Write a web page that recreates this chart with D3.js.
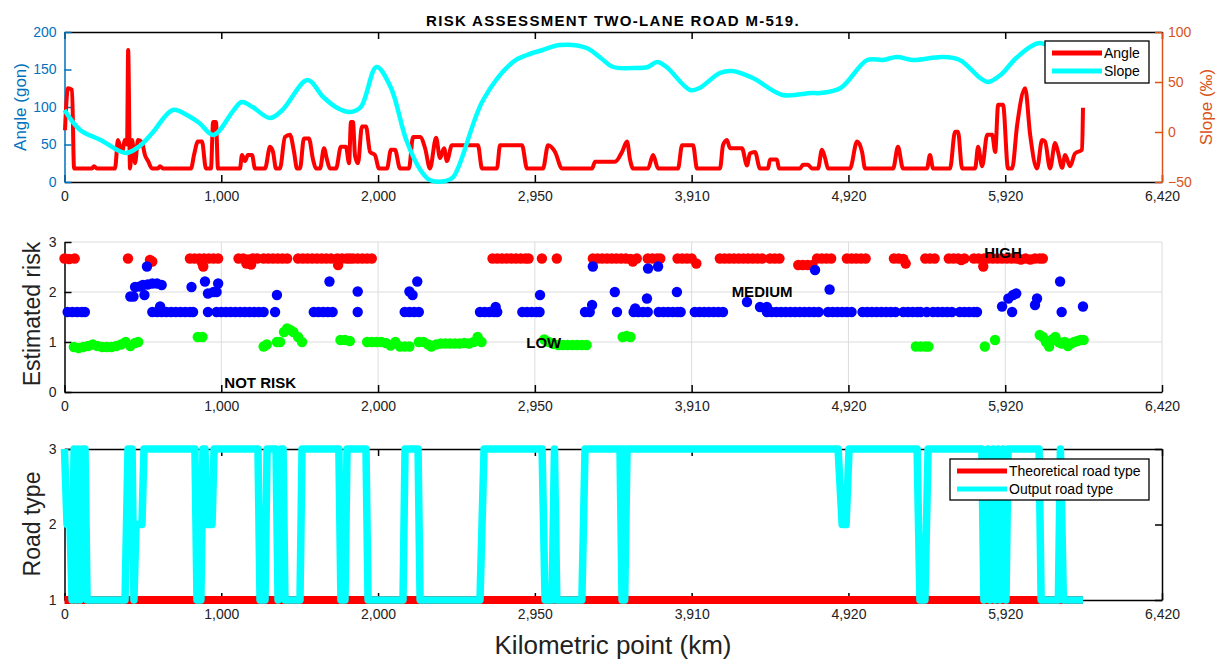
<!DOCTYPE html>
<html>
<head>
<meta charset="utf-8">
<script src="https://cdn.jsdelivr.net/npm/d3@7"></script>
<style>
body { margin: 0; background: #fff; }
svg text { font-family: "Liberation Sans", Arial, sans-serif; }
</style>
</head>
<body>
<div id="chart"></div>
<script>
// x is the station index (0..700); the km labels are not evenly spaced
const stationTicks = [0, 100, 200, 300, 400, 500, 600, 700];
const kmLabels = ["0", "1,000", "2,000", "2,950", "3,910", "4,920", "5,920", "6,420"];
const angleTicks = [0, 50, 100, 150, 200];
const slopeTicks = [-50, 0, 50, 100];
const riskTicks = [0, 1, 2, 3];
const roadTicks = [1, 2, 3];

// [station, angle (gon)]
const angleData = [[0.3,69],[2.2,125],[4.8,123],[6.1,18],[17.5,18],[18.8,21],[20.7,18],[32.2,18],[34.1,56],[36.7,40],[38.6,56],[39.9,50],[40.6,176],[41.8,18],[43.1,56],[45,25],[46.9,56],[49.4,53],[51.3,36],[53.3,28],[55.8,18],[59.6,18],[60.9,21],[62.8,18],[80.7,18],[82.6,36],[85.1,54],[87.7,54],[90.2,18],[93.4,18],[94.8,80],[96.6,80],[97.9,18],[111.9,18],[113.2,36],[115.1,28],[117,36],[119.6,36],[121.5,18],[127.9,18],[131.1,47],[133,40],[134.9,18],[137.4,18],[140.6,60],[143.8,63],[146.4,40],[148.3,18],[150.2,18],[152.7,58],[155.9,58],[158.5,30],[160.4,18],[163,18],[165.5,45],[167.4,30],[169.3,18],[173.2,18],[176.3,47],[179.5,47],[181.5,25],[182.7,80],[184,80],[185.3,35],[187.2,25],[189.7,74],[192.3,74],[194.9,40],[198,36],[200.6,18],[205.7,18],[208.2,43],[210.8,43],[214,18],[219.7,18],[222.3,60],[226.8,60],[230,45],[233.1,18],[237,59],[239.5,32],[242.1,45],[243.9,28],[247.1,49],[263.7,49],[266.3,18],[275.8,18],[277.8,49],[291.8,49],[295,18],[305.2,18],[308.4,49],[312.9,40],[317.3,18],[336.5,18],[338.4,27],[351.1,27],[355.6,40],[358.8,54],[360.7,30],[362.6,18],[372.2,18],[375.4,36],[378.6,18],[391.3,18],[393.9,49],[400.9,49],[403.4,18],[418.1,18],[420,49],[422.5,56],[424.5,45],[432.1,45],[435.3,22],[437.2,38],[440.4,40],[443.6,18],[448.7,18],[450,30],[454.4,30],[455.7,18],[469.1,18],[471,23],[474.2,23],[476.8,18],[480.6,18],[483.1,43],[485.1,32],[487,18],[501,18],[505.5,54],[508.7,40],[510.6,18],[528.5,18],[531.6,47],[534.8,18],[550.1,18],[552,36],[554,18],[564.8,18],[568,67],[569.9,67],[572.5,18],[580.8,18],[582.7,47],[585.3,21],[588.5,63],[591.7,63],[593.6,40],[595.5,103],[598.6,103],[601.8,18],[604.4,18],[607.6,76],[612.7,125],[615.9,63],[620.3,18],[623.5,56],[625.4,54],[628.6,18],[631.8,52],[633.7,40],[636.3,19],[638.2,36],[641.4,21],[644.5,38],[649,43],[649.6,99]];

// [station, slope (per mil)]
const slopeData = [[0,22],[10,2],[23,-8],[39,-21],[48,-14],[56,-1],[69,22],[78,17],[86,9],[95,-3],[108,22],[113,30],[120,25],[131,14],[139,22],[155,52],[165,35],[174,24],[182,20],[189,25],[199,65],[208,45],[218,-8],[227,-38],[233,-48],[243,-49],[248,-45],[267,32],[286,70],[295,77],[305,82],[316,87],[333,84],[342,74],[350,65],[363,64],[372,65],[378,70],[384,65],[399,42],[405,44],[418,59],[426,61],[439,54],[458,37],[476,39],[482,39],[495,44],[512,72],[522,72],[531,75],[541,72],[560,75],[571,72],[584,54],[589,50],[597,57],[607,74],[618,87],[622,89],[629,86],[651,80]];

// [station, estimated risk]
const riskHigh = [[0,2.67],[3,2.66],[6.5,2.67],[40.5,2.67],[54.5,2.64],[56,2.61],[80,2.67],[83,2.67],[86,2.67],[87.5,2.6],[88.5,2.51],[89,2.67],[92,2.67],[95,2.67],[98,2.67],[111,2.67],[114,2.67],[116,2.57],[117,2.65],[119,2.55],[120,2.67],[123,2.67],[127,2.67],[130,2.67],[133,2.67],[136,2.67],[139,2.67],[142,2.67],[149,2.67],[152,2.67],[155,2.67],[158,2.67],[161,2.67],[164,2.67],[167,2.67],[170,2.67],[174,2.67],[174.5,2.54],[177,2.67],[180,2.67],[182,2.67],[184,2.67],[187,2.67],[190,2.67],[193,2.67],[196,2.67],[273,2.67],[276,2.67],[279,2.67],[282,2.67],[285,2.67],[288,2.67],[291,2.67],[294,2.67],[296,2.67],[304.5,2.67],[314,2.67],[337,2.67],[340,2.67],[343,2.67],[346,2.67],[349,2.67],[352,2.67],[355,2.67],[358,2.67],[361,2.66],[362.5,2.61],[365,2.67],[372,2.67],[375,2.67],[378,2.67],[380,2.67],[391,2.67],[394,2.67],[397,2.67],[400,2.67],[403,2.57],[418,2.67],[421,2.67],[424,2.67],[427,2.67],[430,2.67],[433,2.67],[436,2.67],[439,2.67],[442,2.67],[445,2.67],[450,2.67],[453,2.67],[456,2.67],[468,2.54],[471,2.54],[474,2.54],[477,2.54],[480,2.67],[483,2.67],[486,2.67],[489,2.67],[499,2.67],[502,2.67],[505,2.67],[508,2.67],[511,2.67],[529,2.67],[532,2.67],[535,2.66],[536.5,2.57],[549,2.67],[552,2.67],[555,2.67],[564,2.67],[567,2.67],[570,2.67],[572,2.64],[574,2.67],[580,2.67],[583,2.67],[586,2.51],[586.5,2.67],[589,2.67],[592,2.67],[595,2.67],[598,2.67],[601,2.67],[604,2.67],[607,2.67],[610,2.65],[613,2.67],[616,2.65],[619,2.67],[622,2.67],[624,2.67]];

const riskMedium = [[2,1.6],[5,1.6],[8,1.6],[11,1.6],[13,1.6],[42,1.91],[44,1.91],[45,2.1],[48,2.11],[50,2.14],[51,1.94],[52.6,2.51],[53,2.15],[56,2.17],[59,2.17],[56,1.6],[59,1.6],[61,1.71],[62,2.14],[62,1.6],[65,1.6],[68,1.6],[71,1.6],[74,1.6],[77,1.6],[80,1.6],[81,2.1],[82,1.6],[89.6,2.21],[91.5,1.97],[91.5,1.6],[95,2.0],[97,2.0],[98,2.17],[97,1.6],[100,1.6],[103,1.6],[106,1.6],[109,1.6],[112,1.6],[115,1.6],[118,1.6],[121,1.6],[124,1.6],[127,1.6],[134.3,1.6],[135.5,1.94],[159,1.6],[162,1.6],[165,1.6],[168,1.6],[171,1.6],[169,2.21],[187,2.01],[187,1.6],[217,1.6],[220,1.6],[223,1.6],[226,1.6],[220,2.01],[222,1.94],[225,2.21],[265,1.6],[268,1.6],[271,1.6],[274,1.6],[276,1.6],[275,1.7],[292,1.6],[295,1.6],[298,1.6],[301,1.6],[303,1.6],[303.3,1.94],[332,1.6],[335,1.6],[336.5,1.74],[337,2.51],[351,2.0],[352.4,1.6],[363,1.6],[364,1.67],[366,1.6],[369,1.6],[372,1.6],[371.5,1.87],[372.2,2.47],[378.6,2.51],[379,1.6],[382,1.6],[385,1.6],[388,1.6],[391,1.6],[393,1.6],[390.6,2.0],[402,1.6],[405,1.6],[408,1.6],[411,1.6],[414,1.6],[417,1.6],[420,1.6],[435.3,1.8],[443.6,1.7],[448,1.7],[448,1.6],[451,1.6],[454,1.6],[457,1.6],[460,1.6],[463,1.6],[466,1.6],[469,1.6],[472,1.6],[475,1.6],[478,1.6],[481,1.6],[478.7,2.44],[488,2.05],[487,1.6],[490,1.6],[493,1.6],[496,1.6],[499,1.6],[502,1.6],[509,1.6],[512,1.6],[515,1.6],[518,1.6],[521,1.6],[524,1.6],[527,1.6],[530,1.6],[535,1.6],[538,1.6],[541,1.6],[544,1.6],[546,1.6],[550,1.6],[554,1.6],[557,1.6],[560,1.6],[563,1.6],[566,1.6],[571,1.6],[574,1.6],[577,1.6],[580,1.6],[582,1.6],[598,1.71],[602,1.87],[604.4,1.6],[605,1.94],[607,1.97],[619,1.74],[620.3,1.87],[635,2.21],[636,1.6],[649.6,1.71]];

const riskLow = [[6,0.9],[9,0.88],[12,0.9],[15,0.92],[18,0.95],[21,0.92],[24,0.9],[27,0.9],[30,0.9],[33,0.92],[36,0.95],[39,1.0],[42,0.92],[45,0.98],[47,1.0],[85,1.1],[88,1.1],[127,0.91],[129,0.95],[135.5,1.0],[137.5,1.0],[140,1.2],[142,1.27],[144,1.24],[146,1.2],[149,1.1],[151.5,1.0],[176,1.04],[179,1.04],[182,1.02],[193,1.0],[196,1.0],[199,1.0],[202,1.0],[205,0.98],[208,0.93],[211,1.0],[214,0.91],[217,0.91],[220,0.91],[226,1.0],[229,1.0],[232,0.95],[234,0.91],[237,0.95],[240,0.97],[243,0.97],[246,0.97],[249,0.97],[252,0.97],[255,0.98],[258,0.97],[261,1.0],[263.5,1.1],[266,1.0],[306,1.05],[309,1.0],[312,0.96],[315,0.94],[318,0.94],[321,0.94],[324,0.94],[327,0.94],[330,0.94],[333,0.94],[356,1.1],[358.5,1.12],[361,1.1],[543,0.91],[546,0.91],[549,0.91],[551,0.91],[587,0.91],[593.5,1.04],[622,1.14],[624,1.1],[626,1.0],[628,0.91],[630,1.05],[632,1.1],[634,1.0],[636,0.97],[638,1.0],[640,0.92],[642,0.97],[644,1.0],[646,1.02],[648,1.04],[650,1.04]];

const riskLabels = ["NOT RISK", "LOW", "MEDIUM", "HIGH"];
const riskLabelAt = [[124.8,0.18],[305.7,0.98],[444.9,2.0],[598.6,2.78]];

// [station, road type]
const roadTheoretical = [[0,1],[649.6,1]];
const roadOutput = [[0,3],[1.6,2],[3.5,2],[4.8,1],[6.1,3],[7.3,1],[8.6,3],[9.9,1],[11.2,3],[13.1,3],[14.4,1],[38.6,1],[40.5,3],[43.1,3],[44.3,1],[45.6,2],[49.4,2],[50.7,3],[83.2,3],[84.5,1],[87,1],[88.3,3],[89.6,3],[90.9,2],[94.1,2],[95.4,3],[123.4,3],[124.7,1],[127.9,1],[129.2,3],[134.9,3],[136.2,1],[138,3],[139.4,3],[140.6,1],[150.2,1],[151.5,3],[175,3],[176.3,1],[178.9,1],[180.2,3],[192.3,3],[193.6,1],[215.9,1],[217.2,3],[225.5,3],[226.8,1],[265,1],[267.6,3],[304.6,3],[306.5,1],[311,1],[312.5,3],[314,1],[330,1],[332,3],[354.3,3],[355.6,1],[356.5,3],[357.3,1],[358.8,3],[493.4,3],[496,2],[498.5,2],[500.4,3],[543.8,3],[545.6,1],[548.8,1],[550.8,3],[585.1,3],[586.4,1],[588.9,3],[590.2,1],[592.2,3],[593.5,1],[595.4,3],[596.7,1],[598.6,3],[600.5,1],[601.8,3],[621.6,3],[622.9,1],[633.9,1],[635.2,3],[637.1,1],[649.6,1]];

const W = 1222, H = 664;
const left = 64.5, right = 1162;
const BLUE = "#0072BD", ORANGE = "#D95319";

const svg = d3.select("#chart").append("svg")
  .attr("width", W).attr("height", H);

const x = d3.scaleLinear().domain([0, 700]).range([left, right]);
const intFmt = d3.format("d");

function styleAxis(g, color) {
  g.select(".domain").attr("stroke", color).attr("stroke-width", 1.5);
  g.selectAll(".tick line").attr("stroke", color).attr("stroke-width", 1.5);
  g.selectAll(".tick text").attr("fill", color === "#000" ? "#222" : color)
    .style("font-size", "14px");
}

function bottomAxis(y, labels) {
  const g = svg.append("g").attr("transform", `translate(0,${y})`)
    .call(d3.axisBottom(x).tickValues(stationTicks)
      .tickFormat((d, i) => labels ? kmLabels[i] : "")
      .tickSizeInner(-7).tickSizeOuter(0).tickPadding(9));
  styleAxis(g, "#000");
  return g;
}

function topAxis(y) {
  const g = svg.append("g").attr("transform", `translate(0,${y})`)
    .call(d3.axisTop(x).tickValues(stationTicks).tickFormat("")
      .tickSizeInner(-7).tickSizeOuter(0));
  styleAxis(g, "#000");
}

// ---------- panel 1 : angle and slope ----------
const yA = d3.scaleLinear().domain([0, 200]).range([182, 32]);
const yS = d3.scaleLinear().domain([-50, 100]).range([182, 32]);

topAxis(32);
bottomAxis(182, true);

const gA = svg.append("g").attr("transform", `translate(${left},0)`)
  .call(d3.axisLeft(yA).tickValues(angleTicks).tickFormat(intFmt).tickSizeInner(-7).tickSizeOuter(0).tickPadding(8));
styleAxis(gA, BLUE);

const gS = svg.append("g").attr("transform", `translate(${right},0)`)
  .call(d3.axisRight(yS).tickValues(slopeTicks).tickFormat(intFmt).tickSizeInner(-7).tickSizeOuter(0).tickPadding(6));
styleAxis(gS, ORANGE);

svg.append("path").datum(angleData)
  .attr("fill", "none").attr("stroke", "#ff0000").attr("stroke-width", 4)
  .attr("stroke-linejoin", "round")
  .attr("d", d3.line().x(d => x(d[0])).y(d => yA(d[1])).curve(d3.curveMonotoneX));

svg.append("path").datum(slopeData)
  .attr("fill", "none").attr("stroke", "#00ffff").attr("stroke-width", 4.5)
  .attr("stroke-linejoin", "round")
  .attr("d", d3.line().x(d => x(d[0])).y(d => yS(d[1])).curve(d3.curveCatmullRom));

svg.append("text").attr("x", 613).attr("y", 26).attr("text-anchor", "middle")
  .style("font-size", "15px").style("font-weight", "bold").style("letter-spacing", "1.3px")
  .text("RISK ASSESSMENT TWO-LANE ROAD M-519.");

svg.append("text").attr("transform", "translate(20,107) rotate(-90)")
  .attr("text-anchor", "middle").attr("dy", "0.35em")
  .attr("fill", BLUE).style("font-size", "17px").text("Angle (gon)");

svg.append("text").attr("transform", "translate(1206,107) rotate(-90)")
  .attr("text-anchor", "middle").attr("dy", "0.35em")
  .attr("fill", ORANGE).style("font-size", "17px").text("Slope (‰)");

function legend(x0, y0, w, h, items) {
  const g = svg.append("g");
  g.append("rect").attr("x", x0).attr("y", y0).attr("width", w).attr("height", h)
    .attr("fill", "#fff").attr("stroke", "#000").attr("stroke-width", 1.3);
  items.forEach((it, i) => {
    const yy = y0 + 12 + i * 18;
    g.append("line").attr("x1", x0 + 7).attr("x2", x0 + 57).attr("y1", yy).attr("y2", yy)
      .attr("stroke", it.color).attr("stroke-width", 5);
    g.append("text").attr("x", x0 + 59).attr("y", yy).attr("dy", "0.35em")
      .style("font-size", "14px").text(it.name);
  });
}
legend(1045, 41, 104, 42, [{ name: "Angle", color: "#ff0000" }, { name: "Slope", color: "#00ffff" }]);

// ---------- panel 2 : estimated risk ----------
const yR = d3.scaleLinear().domain([0, 3]).range([392, 242]);

const grid = svg.append("g").attr("stroke", "#dcdcdc").attr("stroke-width", 1);
grid.selectAll("line.h").data(riskTicks.slice(1)).enter().append("line")
  .attr("x1", left).attr("x2", right).attr("y1", d => yR(d)).attr("y2", d => yR(d));
grid.selectAll("line.v").data(stationTicks.slice(1)).enter().append("line")
  .attr("x1", d => x(d)).attr("x2", d => x(d)).attr("y1", yR(0)).attr("y2", yR(3));

bottomAxis(392, true);
const gR = svg.append("g").attr("transform", `translate(${left},0)`)
  .call(d3.axisLeft(yR).tickValues(riskTicks).tickFormat(intFmt).tickSizeInner(-7).tickSizeOuter(0).tickPadding(8));
styleAxis(gR, "#000");

const riskSeries = [
  { data: riskHigh, color: "#ff0000" },
  { data: riskMedium, color: "#0000ff" },
  { data: riskLow, color: "#00ff00" }
];
riskSeries.forEach(s => {
  svg.append("g").selectAll("circle").data(s.data).enter().append("circle")
    .attr("cx", d => x(d[0])).attr("cy", d => yR(d[1])).attr("r", 5.2)
    .attr("fill", s.color);
});

svg.append("g").selectAll("text").data(riskLabels).enter().append("text")
  .attr("x", (d, i) => x(riskLabelAt[i][0])).attr("y", (d, i) => yR(riskLabelAt[i][1]))
  .attr("text-anchor", "middle").attr("dy", "0.35em")
  .style("font-size", "15px").style("font-weight", "bold")
  .text(d => d);

svg.append("text").attr("transform", "translate(32,314) rotate(-90)")
  .attr("text-anchor", "middle").attr("dy", "0.35em")
  .style("font-size", "23px").attr("fill", "#222").text("Estimated risk");

// ---------- panel 3 : road type ----------
const yT = d3.scaleLinear().domain([1, 3]).range([600, 449]);

topAxis(449);
bottomAxis(600, true);
const gT = svg.append("g").attr("transform", `translate(${left},0)`)
  .call(d3.axisLeft(yT).tickValues(roadTicks).tickFormat(intFmt).tickSizeInner(-7).tickSizeOuter(0).tickPadding(8));
styleAxis(gT, "#000");
const gT2 = svg.append("g").attr("transform", `translate(${right},0)`)
  .call(d3.axisRight(yT).tickValues(roadTicks).tickFormat("").tickSizeInner(-7).tickSizeOuter(0));
styleAxis(gT2, "#000");

const roadLine = d3.line().x(d => x(d[0])).y(d => yT(d[1]));
svg.append("path").datum(roadTheoretical)
  .attr("fill", "none").attr("stroke", "#ff0000").attr("stroke-width", 8)
  .attr("d", roadLine);
svg.append("path").datum(roadOutput)
  .attr("fill", "none").attr("stroke", "#00ffff").attr("stroke-width", 7.5)
  .attr("stroke-linejoin", "round")
  .attr("d", roadLine);

legend(950, 459, 199, 41, [
  { name: "Theoretical road type", color: "#ff0000" },
  { name: "Output road type", color: "#00ffff" }
]);

svg.append("text").attr("transform", "translate(32,524) rotate(-90)")
  .attr("text-anchor", "middle").attr("dy", "0.35em")
  .style("font-size", "23px").attr("fill", "#222").text("Road type");

svg.append("text").attr("x", 613).attr("y", 654).attr("text-anchor", "middle")
  .style("font-size", "26px").attr("fill", "#222").text("Kilometric point (km)");
</script>
</body>
</html>
